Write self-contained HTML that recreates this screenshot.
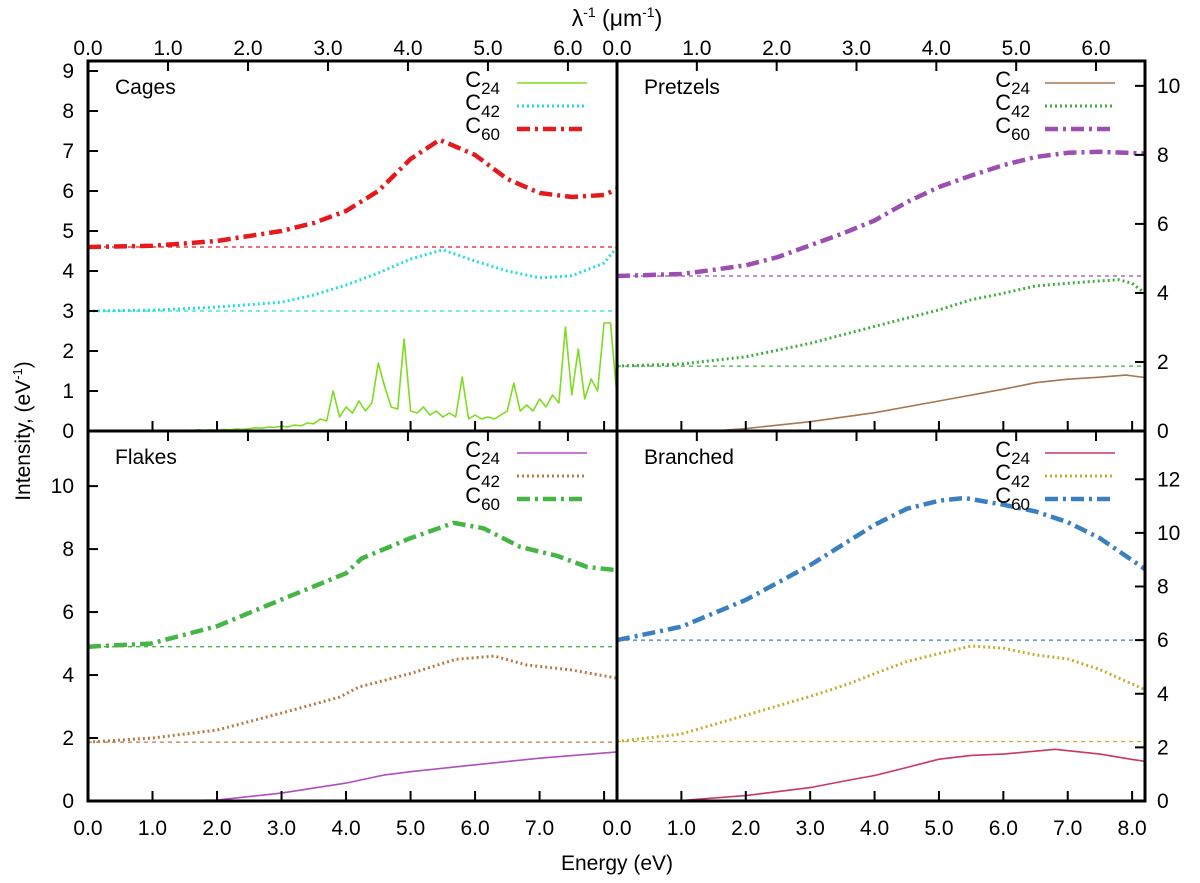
<!DOCTYPE html>
<html><head><meta charset="utf-8"><style>
html,body{margin:0;padding:0;background:#fff;}
svg{display:block;font-family:"Liberation Sans",sans-serif;}
</style></head><body>
<svg id="chart" width="1200" height="883" viewBox="0 0 1200 883" xmlns="http://www.w3.org/2000/svg">
<text x="617" y="26" font-size="23" text-anchor="middle">λ<tspan dy="-9" font-size="14">-1</tspan><tspan dy="9"> (μm</tspan><tspan dy="-9" font-size="14">-1</tspan><tspan dy="9">)</tspan></text>
<text x="617" y="870" font-size="21" text-anchor="middle">Energy (eV)</text>
<text transform="translate(30,431) rotate(-90)" font-size="21" text-anchor="middle">Intensity, (eV<tspan dy="-8" font-size="13">-1</tspan><tspan dy="8">)</tspan></text>
</svg>
<script>
// ---- data ----
const cagesC24E = [0,0.1,0.2,0.3,0.4,0.5,0.6,0.7,0.8,0.9,1.0,1.1,1.2,1.3,1.4,1.5,1.6,1.7,1.8,1.9,2.0,2.1,2.2,2.3,2.4,2.5,2.6,2.7,2.8,2.9,3.0,3.1,3.2,3.3,3.4,3.5,3.6,3.7,3.8,3.9,4.0,4.1,4.2,4.3,4.4,4.5,4.6,4.7,4.8,4.9,5.0,5.1,5.2,5.3,5.4,5.5,5.6,5.7,5.8,5.9,6.0,6.1,6.2,6.3,6.4,6.5,6.6,6.7,6.8,6.9,7.0,7.1,7.2,7.3,7.4,7.5,7.6,7.7,7.8,7.9,8.0,8.1,8.2];
const cagesC24V = [0,0,0,0,0,0,0,0,0,0,0,0,0,0.01,0,0.02,0.01,0.03,0.02,0.03,0.02,0.04,0.03,0.05,0.04,0.06,0.08,0.07,0.1,0.09,0.12,0.1,0.15,0.13,0.2,0.18,0.3,0.25,1.0,0.35,0.6,0.45,0.75,0.5,0.7,1.7,1.1,0.6,0.55,2.3,0.5,0.45,0.6,0.4,0.5,0.35,0.45,0.35,1.35,0.3,0.4,0.3,0.35,0.3,0.4,0.5,1.2,0.5,0.65,0.5,0.8,0.6,0.9,0.7,2.6,0.9,2.05,0.8,1.3,1.0,2.7,2.7,0.85];
const cagesC42E = [0,1,2,3,3.5,4,4.5,5,5.5,6,6.5,7,7.5,8,8.2];
const cagesC42V = [3.0,3.02,3.1,3.22,3.4,3.65,3.95,4.3,4.53,4.25,4.0,3.83,3.88,4.2,4.6];
const cagesC60E = [0,1,2,3,3.5,4,4.5,5,5.45,6,6.5,7,7.5,8,8.2];
const cagesC60V = [4.6,4.63,4.75,5.0,5.2,5.5,6.0,6.8,7.28,6.9,6.3,5.95,5.85,5.9,6.05];

const pretC24E = [0,1,1.5,2,3,4,5,6,6.5,7,7.5,7.9,8.2];
const pretC24V = [0,0,0,0.07,0.27,0.53,0.87,1.21,1.4,1.5,1.56,1.62,1.55];
const pretC42E = [0,1,2,3,4,5,5.5,6,6.5,7,7.5,7.8,8.0,8.2];
const pretC42V = [1.88,1.94,2.15,2.54,3.03,3.51,3.8,3.99,4.2,4.28,4.35,4.38,4.28,3.99];
const pretC60E = [0,1,1.5,2,2.5,3,3.5,4,4.5,5,5.5,6,6.5,7,7.5,8.2];
const pretC60V = [4.49,4.55,4.67,4.8,5.04,5.38,5.72,6.1,6.63,7.07,7.4,7.7,7.94,8.06,8.09,8.04];

const flakC24E = [0,1,2,3,4,4.6,5,6,7,8.2];
const flakC24V = [0,0,0.03,0.25,0.57,0.83,0.93,1.15,1.36,1.56];
const flakC42E = [0,1,2,3,3.9,4.2,5,5.7,6.3,6.8,7.5,8.2];
const flakC42V = [1.87,2.0,2.25,2.79,3.3,3.62,4.05,4.5,4.6,4.32,4.16,3.9];
const flakC60E = [0,0.97,2.0,2.98,4.0,4.24,5.0,5.67,6.13,6.7,7.28,7.74,8.2];
const flakC60V = [4.9,5.0,5.55,6.38,7.23,7.7,8.35,8.83,8.66,8.07,7.78,7.43,7.33];

const branC24E = [0,1,2,3,3.6,4,4.5,5,5.5,6,6.8,7.5,8,8.2];
const branC24V = [0,0.02,0.2,0.5,0.78,0.95,1.25,1.56,1.7,1.75,1.93,1.75,1.55,1.48];
const branC42E = [0,1,2,3,3.6,4,4.5,4.9,5.5,6,6.5,7,7.5,8.2];
const branC42V = [2.22,2.5,3.2,3.9,4.37,4.75,5.2,5.44,5.78,5.7,5.45,5.3,4.9,4.15];
const branC60E = [0,1,2,3,4,4.5,5,5.4,6,6.5,7,7.5,8.2];
const branC60V = [6.0,6.5,7.5,8.8,10.3,10.9,11.2,11.3,11.05,10.8,10.4,9.8,8.65];

const eTicks = [0,1,2,3,4,5,6,7,8];
const eTickLabels = ["0.0","1.0","2.0","3.0","4.0","5.0","6.0","7.0","8.0"];
const lTicks = [0,1,2,3,4,5,6];
const lTickLabels = ["0.0","1.0","2.0","3.0","4.0","5.0","6.0"];
const yTicksCages = [0,1,2,3,4,5,6,7,8,9];
const yTicksPret = [0,2,4,6,8,10];
const yTicksFlak = [0,2,4,6,8,10];
const yTicksBran = [0,2,4,6,8,10,12];

// ---- drawing ----
const NS = "http://www.w3.org/2000/svg";
const svg = document.getElementById('chart');
function mk(tag, attrs, parent){const e=document.createElementNS(NS,tag);for(const k in attrs)e.setAttribute(k,attrs[k]);(parent||svg).appendChild(e);return e;}
const EMAX = 8.2;
const styles = {
  solid:{w:1.6,dash:null},
  dot:{w:3,dash:"2,3"},
  dashdot:{w:4.5,dash:"13,5,3,5"}
};
const panels = [
  {name:"cages", title:"Cages", x0:88, x1:617, y0:61, y1:431, ymax:9.25, yTicks:yTicksCages, side:"left",
   series:[{lab:"24",E:cagesC24E,V:cagesC24V,c:"#7ddc1f",st:"solid"},{lab:"42",E:cagesC42E,V:cagesC42V,c:"#22dede",st:"dot",base:3.0},{lab:"60",E:cagesC60E,V:cagesC60V,c:"#e41a1c",st:"dashdot",base:4.6}], showBottomLabels:false},
  {name:"pretzels", title:"Pretzels", x0:617, x1:1145, y0:61, y1:431, ymax:10.72, yTicks:yTicksPret, side:"right",
   series:[{lab:"24",E:pretC24E,V:pretC24V,c:"#a87550",st:"solid"},{lab:"42",E:pretC42E,V:pretC42V,c:"#3fae3f",st:"dot",base:1.88},{lab:"60",E:pretC60E,V:pretC60V,c:"#9b4fb0",st:"dashdot",base:4.49}], showBottomLabels:false},
  {name:"flakes", title:"Flakes", x0:88, x1:617, y0:431, y1:801, ymax:11.75, yTicks:yTicksFlak, side:"left",
   series:[{lab:"24",E:flakC24E,V:flakC24V,c:"#b04ec0",st:"solid"},{lab:"42",E:flakC42E,V:flakC42V,c:"#b87a45",st:"dot",base:1.87},{lab:"60",E:flakC60E,V:flakC60V,c:"#45b545",st:"dashdot",base:4.9}], showBottomLabels:true, maxLabel:7},
  {name:"branched", title:"Branched", x0:617, x1:1145, y0:431, y1:801, ymax:13.8, yTicks:yTicksBran, side:"right",
   series:[{lab:"24",E:branC24E,V:branC24V,c:"#c8385f",st:"solid"},{lab:"42",E:branC42E,V:branC42V,c:"#c4ae30",st:"dot",base:2.22},{lab:"60",E:branC60E,V:branC60V,c:"#3a80c0",st:"dashdot",base:6.0}], showBottomLabels:true, maxLabel:8}
];

panels.forEach((p,pi)=>{
  const g = mk('g',{});
  
  
  const xs = e => p.x0 + e/EMAX*(p.x1-p.x0);
  const ys = v => p.y1 - v/p.ymax*(p.y1-p.y0);
  p.series.forEach(s=>{
    if(s.base===undefined) return;
    const l = mk('line',{x1:p.x0,x2:p.x1,y1:ys(s.base),y2:ys(s.base),stroke:s.c,'stroke-width':1.3,'stroke-dasharray':'4,4'},g);
    
    
  });
  p.series.forEach(s=>{
    let d='';
    s.E.forEach((e,i)=>{d+=(i?'L':'M')+xs(e).toFixed(1)+','+ys(s.V[i]).toFixed(1);});
    const st=styles[s.st];
    const a={d:d,fill:'none',stroke:s.c,'stroke-width':st.w,'stroke-linejoin':'round'};
    if(st.dash) a['stroke-dasharray']=st.dash;
    const path = mk('path',a,g);
    
    
  });
  const fr = mk('rect',{x:p.x0,y:p.y0,width:p.x1-p.x0,height:p.y1-p.y0,fill:'none',stroke:'#000','stroke-width':3},g);
  
  
  eTicks.forEach((e,i)=>{
    if(e>EMAX) return;
    const x=xs(e);
    if(i>0 && e<EMAX) mk('line',{x1:x,x2:x,y1:p.y1,y2:p.y1-10,stroke:'#000','stroke-width':2},g);
    if(p.showBottomLabels && e<=p.maxLabel){
      const t = mk('text',{x:x,y:p.y1+34,'font-size':21,'text-anchor':'middle'},g);
      t.textContent = eTickLabels[i];
      
      
    }
  });
  lTicks.forEach((l,i)=>{
    const x=xs(l*1.23984);
    if(i>0) mk('line',{x1:x,x2:x,y1:p.y0,y2:p.y0+10,stroke:'#000','stroke-width':2},g);
    if(p.y0===61){
      const t = mk('text',{x:x,y:p.y0-6,'font-size':21,'text-anchor':'middle'},g);
      t.textContent = lTickLabels[i];
      
      
    }
  });
  p.yTicks.forEach(v=>{
    const y=ys(v);
    if(p.side==='left'){
      if(v>0) mk('line',{x1:p.x0,x2:p.x0+10,y1:y,y2:y,stroke:'#000','stroke-width':2},g);
      const t = mk('text',{x:p.x0-14,y:y+7,'font-size':21,'text-anchor':'end'},g);
      t.textContent = v;
      
      
    } else {
      if(v>0) mk('line',{x1:p.x1,x2:p.x1-10,y1:y,y2:y,stroke:'#000','stroke-width':2},g);
      const t = mk('text',{x:p.x1+12,y:y+7,'font-size':21,'text-anchor':'start'},g);
      t.textContent = v;
      
      
    }
  });
  const tt = mk('text',{x:p.x0+27,y:p.y0+33,'font-size':21},g);
  tt.textContent = p.title;
  
  
  const tr = p.x1 - (p.side==='left'?117:115);
  const lx0 = p.x1 - 100, lx1 = p.x1 - 30;
  const ly0 = p.y0===61 ? 83 : 453;
  p.series.forEach((s,i)=>{
    const y = ly0 + i*23;
    const t = mk('text',{x:tr,y:y+4,'font-size':22,'text-anchor':'end'},g);
    t.innerHTML = 'C<tspan dy="7" font-size="17">'+s.lab+'</tspan>';
    
    
    const st=styles[s.st];
    const a={x1:lx0,x2:lx1,y1:y,y2:y,stroke:s.c,'stroke-width':st.w};
    if(st.dash) a['stroke-dasharray']=st.dash;
    const ln = mk('line',a,g);
    
    
  });
});
</script>
</body></html>
